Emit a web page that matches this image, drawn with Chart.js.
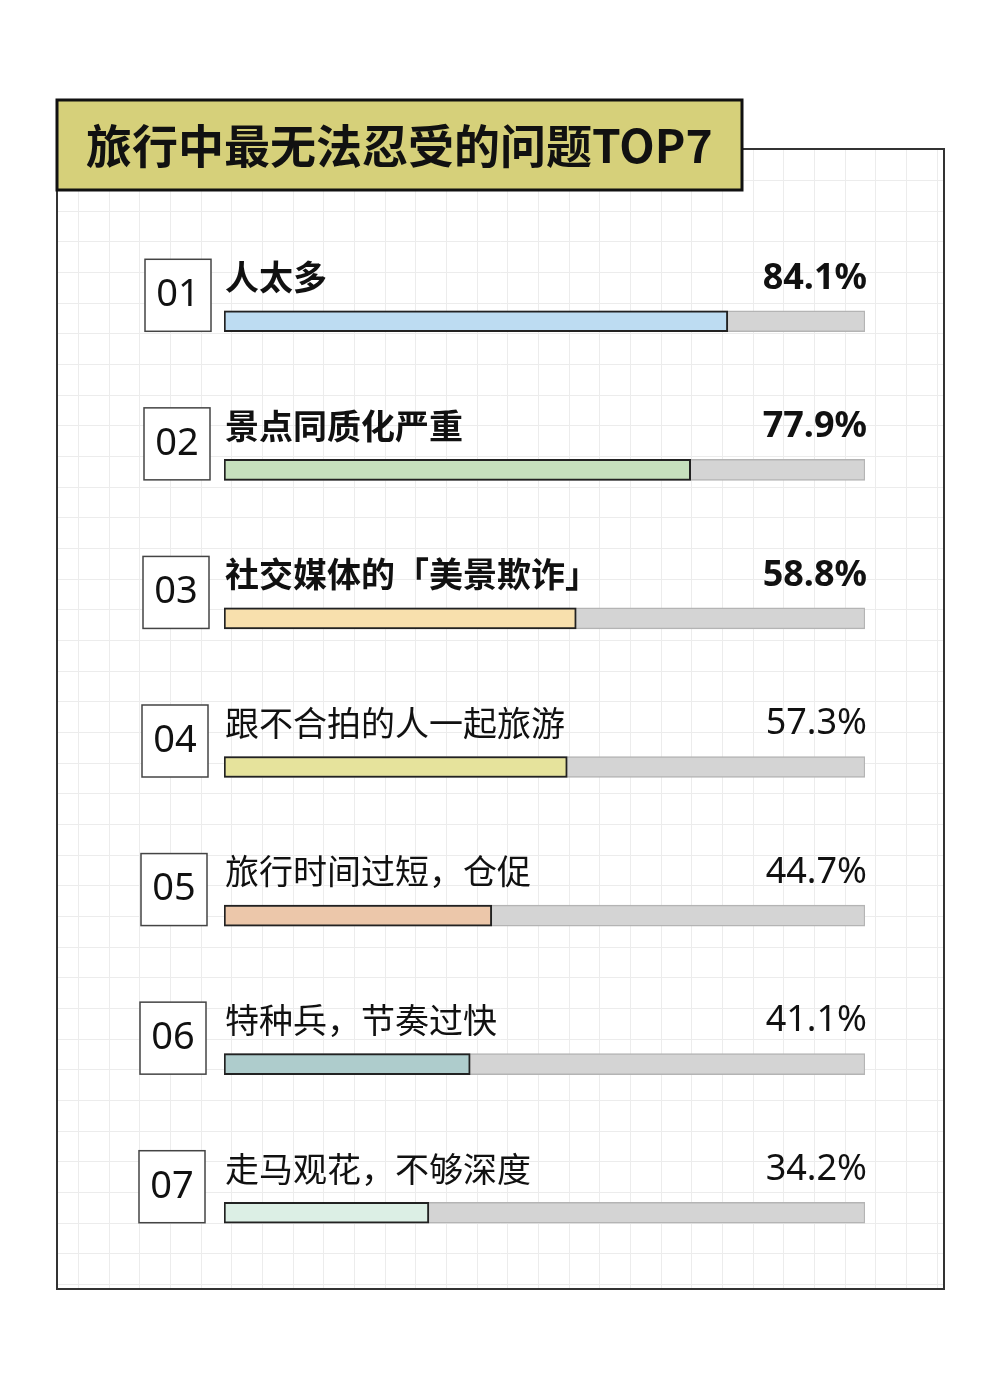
<!DOCTYPE html>
<html>
<head>
<meta charset="utf-8">
<script src="https://cdn.jsdelivr.net/npm/chart.js@4.4.1/dist/chart.umd.min.js"></script>
<style>
  html, body { margin: 0; padding: 0; background: #ffffff; }
  canvas { display: block; }
</style>
</head>
<body>
<canvas id="top7-chart" width="1000" height="1392"></canvas>
<script>
// Chart data
let rankLabels = ['01', '02', '03', '04', '05', '06', '07'];
let problems = ['人太多', '景点同质化严重', '社交媒体的「美景欺诈」', '跟不合拍的人一起旅游',
    '旅行时间过短，仓促', '特种兵，节奏过快', '走马观花，不够深度'];
let percents = [84.1, 77.9, 58.8, 57.3, 44.7, 41.1, 34.2];
let trackValues = [107, 107, 107, 107, 107, 107, 107];
let boldRows = [true, true, true, false, false, false, false];

// Bar fill colors
let barColors = ['#bddcf2', '#c6e0bd', '#f8e0ad', '#e6e39c', '#ecc7aa', '#aecccc', '#dcefe5'];

let chartTitle = '旅行中最无法忍受的问题TOP7';

const CJK = '"Noto Sans CJK SC", "Noto Sans", sans-serif';
const LATIN = '"Noto Sans", "Noto Sans CJK SC", sans-serif';

// Background: grid paper, frame and title tab
const paperPlugin = {
    id: 'paper',
    beforeDraw(chart) {
        const ctx = chart.ctx;
        ctx.save();
        ctx.fillStyle = '#ffffff';
        ctx.fillRect(0, 0, chart.width, chart.height);

        // grid inside the frame
        const fx0 = 57, fy0 = 149, fx1 = 944, fy1 = 1289, step = 30.67;
        ctx.strokeStyle = '#ececec';
        ctx.lineWidth = 1;
        ctx.beginPath();
        for (let x = 78; x < fx1; x += step) {
            ctx.moveTo(Math.round(x) + 0.5, fy0);
            ctx.lineTo(Math.round(x) + 0.5, fy1);
        }
        for (let y = 1284; y > fy0; y -= step) {
            ctx.moveTo(fx0, Math.round(y) + 0.5);
            ctx.lineTo(fx1, Math.round(y) + 0.5);
        }
        ctx.stroke();

        // frame
        ctx.strokeStyle = '#333333';
        ctx.lineWidth = 2;
        ctx.strokeRect(fx0, fy0, fx1 - fx0, fy1 - fy0);

        // title tab
        ctx.fillStyle = '#d6d07a';
        ctx.fillRect(57, 100, 685, 90);
        ctx.strokeStyle = '#111111';
        ctx.lineWidth = 3;
        ctx.strokeRect(57, 100, 685, 90);
        ctx.fillStyle = '#111111';
        ctx.font = 'bold 46px ' + CJK;
        ctx.textBaseline = 'middle';
        ctx.textAlign = 'left';
        ctx.fillText(chartTitle, 86, 146);
        ctx.restore();
    }
};

// Rank boxes, problem labels and percentages
const labelPlugin = {
    id: 'rowLabels',
    afterDatasetsDraw(chart) {
        const ctx = chart.ctx;
        const yScale = chart.scales.y;
        const xScale = chart.scales.x;
        ctx.save();
        problems.forEach((name, i) => {
            const cy = yScale.getPixelForValue(i);
            const bx = 145 - i;

            ctx.fillStyle = '#ffffff';
            ctx.fillRect(bx, cy - 62, 66, 72);
            ctx.strokeStyle = '#444444';
            ctx.lineWidth = 1.5;
            ctx.strokeRect(bx, cy - 62, 66, 72);
            ctx.fillStyle = '#111111';
            ctx.font = '38px ' + LATIN;
            ctx.textAlign = 'center';
            ctx.textBaseline = 'middle';
            ctx.fillText(rankLabels[i], bx + 33, cy - 26);

            const weight = boldRows[i] ? 'bold ' : '';
            ctx.textAlign = 'left';
            ctx.font = weight + '34px ' + CJK;
            ctx.fillText(name, xScale.getPixelForValue(0) + 1, cy - 44);

            ctx.textAlign = 'right';
            ctx.font = weight + '36px ' + LATIN;
            ctx.fillText(percents[i].toFixed(1) + '%', 867, cy - 43);
        });
        ctx.restore();
    }
};

let top7Chart = new Chart(document.getElementById('top7-chart'),
    {
        type: 'bar',
        data: {
            labels: problems,
            datasets: [
                {
                    label: 'percent',
                    data: percents,
                    backgroundColor: barColors,
                    borderColor: '#222222',
                    borderWidth: 2,
                    borderSkipped: false,
                    barThickness: 21,
                    grouped: false,
                    order: 1
                },
                {
                    label: 'track',
                    data: trackValues,
                    backgroundColor: '#d4d4d4',
                    borderColor: '#b4b4b4',
                    borderWidth: 1.5,
                    borderSkipped: false,
                    barThickness: 21,
                    grouped: false,
                    order: 2
                }
            ]
        },
        options: {
            indexAxis: 'y',
            responsive: false,
            animation: false,
            devicePixelRatio: 1,
            layout: { padding: { left: 224, right: 135, top: 247, bottom: 105 } },
            scales: {
                x: { display: false, min: 0, max: 107 },
                y: { display: false }
            },
            plugins: {
                legend: { display: false },
                tooltip: { enabled: false }
            }
        },
        plugins: [paperPlugin, labelPlugin]
    }
);
</script>
</body>
</html>
